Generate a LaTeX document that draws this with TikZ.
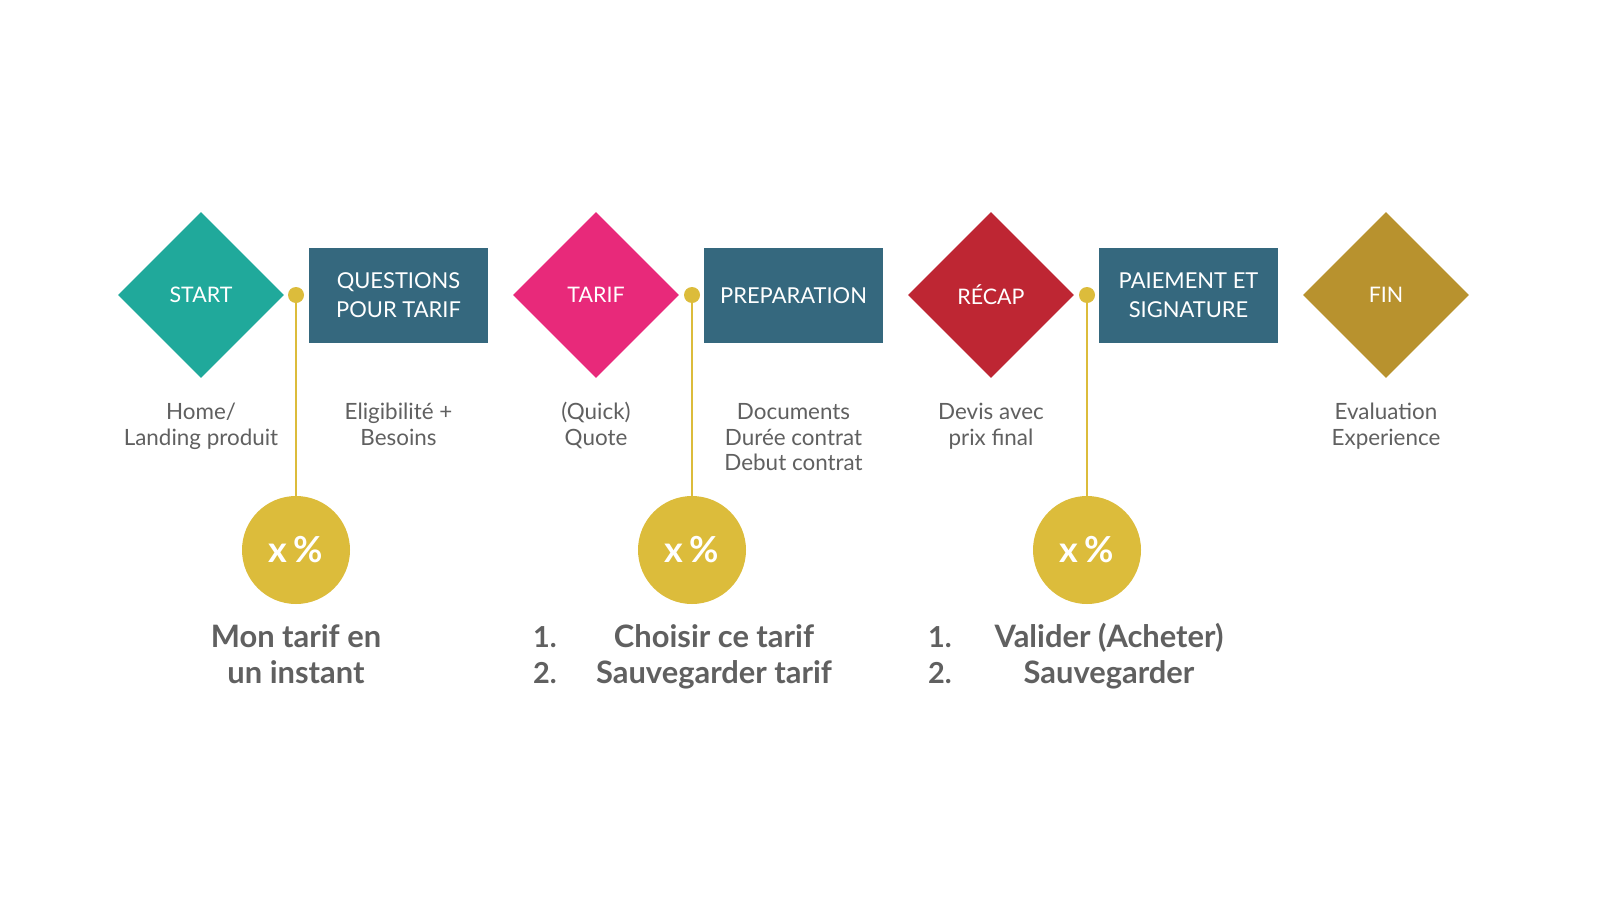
\documentclass[tikz,border=0pt]{standalone}
\usepackage{fontspec}
\setmainfont{Lato}
\usetikzlibrary{shapes.geometric}
\definecolor{cteal}{HTML}{20A99B}
\definecolor{cpink}{HTML}{E8297A}
\definecolor{cred}{HTML}{BE2633}
\definecolor{cgold}{HTML}{B8922E}
\definecolor{cbox}{HTML}{35687E}
\definecolor{cyel}{HTML}{DCBC3B}
\definecolor{cgray}{HTML}{606060}
\tikzset{
  dia/.style={diamond, minimum width=166bp, minimum height=166bp, inner sep=0pt, text=white, font=\fontsize{21.5}{26}\selectfont},
  stepbox/.style={rectangle, fill=cbox, minimum width=179bp, minimum height=95bp, inner sep=0pt, text=white, align=center, font=\fontsize{22}{29}\selectfont},
  dot/.style={circle, fill=cyel, minimum size=16bp, inner sep=0pt},
  pct/.style={circle, fill=cyel, minimum size=108bp, inner sep=0pt, text=white, font=\fontsize{36}{36}\selectfont\bfseries},
  desc/.style={text=cgray, align=center, inner sep=0pt, font=\fontsize{22.5}{25.5}\selectfont, anchor=north},
  big/.style={text=cgray, align=center, inner sep=0pt, font=\fontsize{31}{36}\selectfont\bfseries, anchor=north},
  num/.style={text=cgray, inner sep=0pt, font=\fontsize{29}{36}\selectfont\bfseries, anchor=north west, align=left},
  vline/.style={draw=cyel, line width=2bp}
}
\begin{document}
\begin{tikzpicture}[x=1bp,y=-1bp]
\useasboundingbox[fill=white] (0,0) rectangle (1600,900);
% diamonds
\node[dia, fill=cteal] (start) at (201,295) {START};
\node[dia, fill=cpink] (tarif) at (596,295) {TARIF};
\node[dia, fill=cred] (recap) at (991,295) {RÉCAP};
\node[dia, fill=cgold] (fin) at (1386,295) {FIN};
% boxes
\node[stepbox] (q) at (398.5,295.5) {QUESTIONS\\POUR TARIF};
\node[stepbox] (prep) at (793.5,295.5) {PREPARATION};
\node[stepbox] (pay) at (1188.5,295.5) {PAIEMENT ET\\SIGNATURE};
% circles
\node[pct] (c1) at (296,550) {x\,\%};
\node[pct] (c2) at (692,550) {x\,\%};
\node[pct] (c3) at (1087,550) {x\,\%};
% dots and lines
\node[dot] (d1) at (296,295) {};
\node[dot] (d2) at (692,295) {};
\node[dot] (d3) at (1087,295) {};
\draw[vline] (d1) -- (c1);
\draw[vline] (d2) -- (c2);
\draw[vline] (d3) -- (c3);
% descriptions
\node[desc] (t1) at (201,402) {\strut Home/\\Landing produit};
\node[desc] (t2) at (398.5,402) {\strut Eligibilité +\\Besoins};
\node[desc] (t3) at (596,402) {\strut (Quick)\\Quote};
\node[desc] (t4) at (793.5,402) {\strut Documents\\Durée contrat\\Debut contrat};
\node[desc] (t5) at (991,402) {\strut Devis avec\\prix final};
\node[desc] (t6) at (1386,402) {\strut Evaluation\\Experience};
% bottom labels
\node[big] (b1) at (296,622) {\strut Mon tarif en\\un instant};
\node[num] (n2) at (533,622) {\strut 1.\\2.};
\node[big] (b2) at (714,622) {\strut Choisir ce tarif\\Sauvegarder tarif};
\node[num] (n3) at (928,622) {\strut 1.\\2.};
\node[big] (b3) at (1109,622) {\strut Valider (Acheter)\\Sauvegarder};
\end{tikzpicture}
\end{document}
